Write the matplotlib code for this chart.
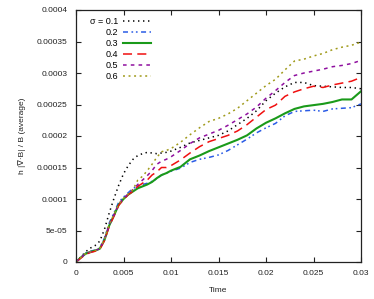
import numpy as np
import matplotlib
matplotlib.use("Agg")
import matplotlib.pyplot as plt

plt.rcParams['font.family'] = ['Liberation Sans', 'DejaVu Sans']
plt.rcParams['lines.scale_dashes'] = False

time = [0, 0.0005, 0.001, 0.0015, 0.002, 0.0025, 0.003, 0.0035, 0.004, 0.0045,
        0.005, 0.0055, 0.006, 0.0065, 0.007, 0.0075, 0.008, 0.0085, 0.009, 0.0095,
        0.010, 0.011, 0.012, 0.013, 0.014, 0.015, 0.016, 0.017, 0.018, 0.019,
        0.020, 0.021, 0.022, 0.023, 0.024, 0.025, 0.026, 0.027, 0.028, 0.029, 0.030]

# values in units of 1e-4
s01 = [0, 0.08, 0.16, 0.22, 0.26, 0.33, 0.52, 0.78, 1.01, 1.22, 1.40, 1.53, 1.63, 1.69, 1.72, 1.74, 1.73, 1.72, 1.73, 1.74,
       1.76, 1.82, 1.89, 1.93, 1.97, 2.01, 2.08, 2.18, 2.28, 2.40, 2.56, 2.68, 2.78, 2.85, 2.85, 2.80, 2.79, 2.78, 2.77, 2.77, 2.75]
s02 = [0, 0.07, 0.14, 0.17, 0.19, 0.22, 0.38, 0.62, 0.78, 0.95, 1.03, 1.10, 1.17, 1.20, 1.23, 1.25, 1.28, 1.32, 1.38, 1.41,
       1.44, 1.49, 1.58, 1.63, 1.66, 1.70, 1.77, 1.86, 1.95, 2.05, 2.13, 2.20, 2.32, 2.39, 2.40, 2.41, 2.39, 2.43, 2.44, 2.45, 2.51]
s03 = [0, 0.07, 0.13, 0.16, 0.18, 0.21, 0.35, 0.58, 0.74, 0.91, 1.00, 1.07, 1.12, 1.17, 1.20, 1.23, 1.27, 1.33, 1.38, 1.41,
       1.45, 1.51, 1.63, 1.69, 1.76, 1.82, 1.88, 1.94, 2.01, 2.12, 2.21, 2.28, 2.36, 2.43, 2.47, 2.49, 2.51, 2.54, 2.58, 2.58, 2.71]
s04 = [0, 0.06, 0.12, 0.15, 0.17, 0.20, 0.34, 0.57, 0.73, 0.90, 0.99, 1.07, 1.12, 1.20, 1.25, 1.30, 1.38, 1.43, 1.50, 1.50,
       1.53, 1.62, 1.73, 1.83, 1.91, 1.96, 2.01, 2.08, 2.18, 2.30, 2.42, 2.49, 2.63, 2.70, 2.75, 2.79, 2.77, 2.81, 2.84, 2.87, 2.93]
s05 = [0, 0.07, 0.13, 0.16, 0.18, 0.21, 0.36, 0.59, 0.75, 0.92, 1.01, 1.08, 1.15, 1.23, 1.30, 1.37, 1.45, 1.55, 1.60, 1.63,
       1.67, 1.77, 1.88, 1.97, 2.03, 2.09, 2.17, 2.26, 2.35, 2.46, 2.60, 2.72, 2.85, 2.96, 3.00, 3.03, 3.06, 3.10, 3.12, 3.15, 3.20]
s06 = [0, 0.07, 0.13, 0.16, 0.18, 0.21, 0.36, 0.60, 0.76, 0.92, 1.01, 1.08, 1.15, 1.30, 1.36, 1.45, 1.55, 1.66, 1.75, 1.77,
       1.80, 1.90, 2.02, 2.13, 2.23, 2.28, 2.35, 2.44, 2.56, 2.68, 2.80, 2.90, 3.05, 3.19, 3.22, 3.27, 3.31, 3.37, 3.41, 3.44, 3.49]

labels = ["σ = 0.1", "0.2", "0.3", "0.4", "0.5", "0.6"]
xticks = [0, 0.005, 0.01, 0.015, 0.02, 0.025, 0.03]
xticklabels = ["0", "0.005", "0.01", "0.015", "0.02", "0.025", "0.03"]
yticks = [0, 5e-05, 0.0001, 0.00015, 0.0002, 0.00025, 0.0003, 0.00035, 0.0004]
yticklabels = ["0", "5e-05", "0.0001", "0.00015", "0.0002", "0.00025", "0.0003", "0.00035", "0.0004"]

series = [s01, s02, s03, s04, s05, s06]
colors = ['#000000', '#2b5ce6', '#1a9a1a', '#f01010', '#8f0f9f', '#a09a1a']
styles = [(0, (1.0, 2.6)), (0, (3.6, 2.5, 1.2, 2.0, 1.2, 2.5)), '-', (0, (6.5, 3.8)),
          (0, (2.6, 3.0)), (0, (1.4, 2.6))]
widths = [1.1, 1.1, 1.5, 1.1, 1.1, 1.1]

fig = plt.figure(figsize=(3.74, 2.99), dpi=100)
ax = fig.add_axes([76/374, 1 - 262/299, 285/374, 252/299])

t = np.array(time)
for s, c, ls, lw, lab in zip(series, colors, styles, widths, labels):
    ax.plot(t, np.array(s) * 1e-4, color=c, linestyle=ls, linewidth=lw, label=lab)

ax.set_xlim(0, 0.03)
ax.set_ylim(0, 0.0004)
ax.set_xticks(xticks)
ax.set_xticklabels(xticklabels)
ax.set_yticks(yticks)
ax.set_yticklabels(yticklabels)
ax.tick_params(direction='in', length=3.5, width=0.8, top=True, right=True,
               labelsize=6, colors='#222222', pad=6)
for sp in ax.spines.values():
    sp.set_linewidth(0.9)
    sp.set_color('#222222')

ax.set_xlabel("Time", fontsize=6, labelpad=7, color='#222222')
ax.set_ylabel("h |∇·B| / B (average)", fontsize=6, labelpad=7.5, color='#222222')

leg = ax.legend(loc='upper left', frameon=False, markerfirst=False, fontsize=6.5,
                handlelength=3.1, handletextpad=0.6, labelspacing=0.22,
                bbox_to_anchor=(0.035, 0.985), borderaxespad=0.0)

fig.savefig("out.png", dpi=100)
